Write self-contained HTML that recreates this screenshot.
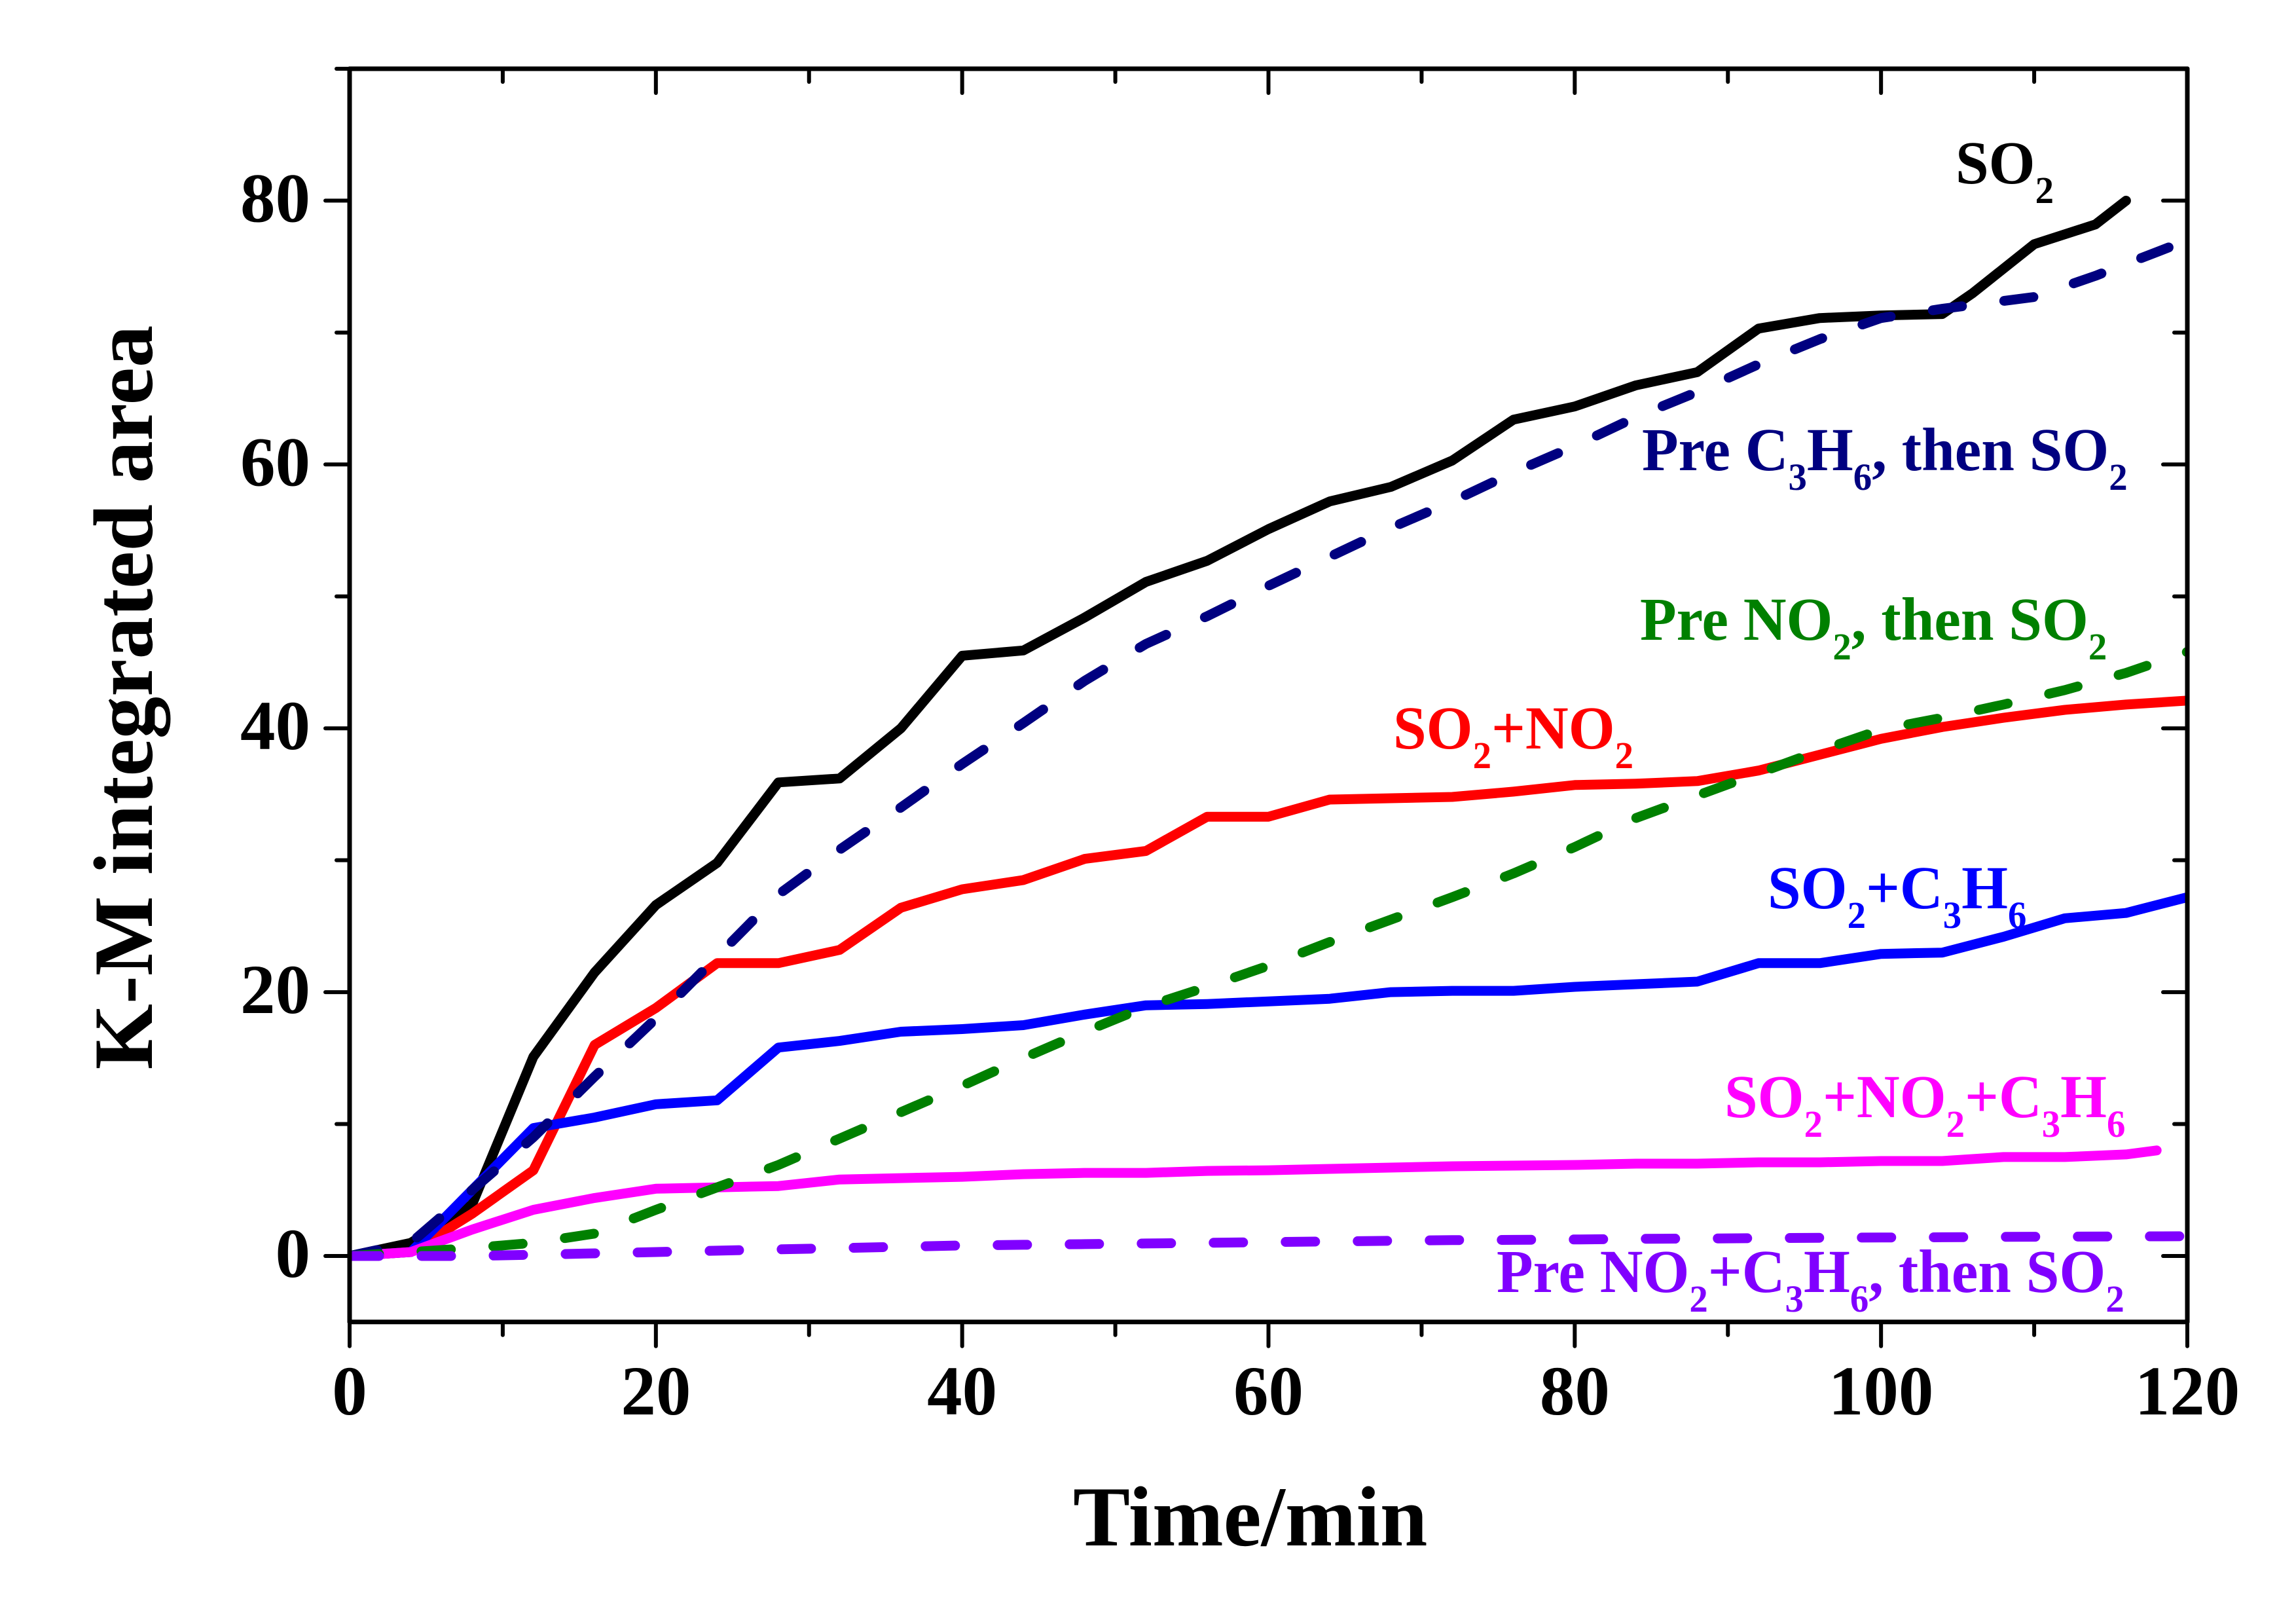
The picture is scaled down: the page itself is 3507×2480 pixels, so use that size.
<!DOCTYPE html>
<html lang="en">
<head>
<meta charset="utf-8">
<title>K-M integrated area vs time</title>
<style>
html,body{margin:0;padding:0;background:#fff;}
svg{display:block;}
text{font-family:"Liberation Serif","Times New Roman",serif;font-weight:bold;}
</style>
</head>
<body>
<svg id="chart" xmlns="http://www.w3.org/2000/svg" width="3507" height="2480" viewBox="0 0 3507 2480">
<rect width="3507" height="2480" fill="#fff"/>
<defs><clipPath id="plot-clip"><rect x="534" y="104" width="2807" height="1915"/></clipPath></defs>
<g id="series-layer" clip-path="url(#plot-clip)"></g>
<g id="axis-layer"></g>

<text x="1639" y="2360" font-size="130.5" fill="#000">Time/min</text>
<text transform="translate(232,1065) rotate(-90)" text-anchor="middle" font-size="129" fill="#000">K-M integrated area</text>

<text transform="translate(2987,280) scale(.98,1)" font-size="93" fill="#000000">SO<tspan font-size="58" dy="30">2</tspan></text>
<text transform="translate(2508,718) scale(.98,1)" font-size="93" fill="#000080">Pre C<tspan font-size="58" dy="30">3</tspan><tspan dy="-30">H</tspan><tspan font-size="58" dy="30">6</tspan><tspan dy="-30">, then SO</tspan><tspan font-size="58" dy="30">2</tspan></text>
<text transform="translate(2505,977) scale(.98,1)" font-size="93" fill="#008000">Pre NO<tspan font-size="58" dy="30">2</tspan><tspan dy="-30">, then SO</tspan><tspan font-size="58" dy="30">2</tspan></text>
<text transform="translate(2128,1143) scale(.98,1)" font-size="93" fill="#ff0000">SO<tspan font-size="58" dy="30">2</tspan><tspan dy="-30">+NO</tspan><tspan font-size="58" dy="30">2</tspan></text>
<text transform="translate(2700,1387) scale(.98,1)" font-size="93" fill="#0000ff">SO<tspan font-size="58" dy="30">2</tspan><tspan dy="-30">+C</tspan><tspan font-size="58" dy="30">3</tspan><tspan dy="-30">H</tspan><tspan font-size="58" dy="30">6</tspan></text>
<text transform="translate(2634,1706) scale(.98,1)" font-size="93" fill="#ff00ff">SO<tspan font-size="58" dy="30">2</tspan><tspan dy="-30">+NO</tspan><tspan font-size="58" dy="30">2</tspan><tspan dy="-30">+C</tspan><tspan font-size="58" dy="30">3</tspan><tspan dy="-30">H</tspan><tspan font-size="58" dy="30">6</tspan></text>
<text transform="translate(2286,1973) scale(.98,1)" font-size="93" fill="#8000ff">Pre NO<tspan font-size="58" dy="30">2</tspan><tspan dy="-30">+C</tspan><tspan font-size="58" dy="30">3</tspan><tspan dy="-30">H</tspan><tspan font-size="58" dy="30">6</tspan><tspan dy="-30">, then SO</tspan><tspan font-size="58" dy="30">2</tspan></text>
</svg>
<script>
const xTickLabels = [0, 20, 40, 60, 80, 100, 120];
const xMinorTicks = [10, 30, 50, 70, 90, 110];
const yTickLabels = [0, 20, 40, 60, 80];
const yMinorTicks = [10, 30, 50, 70, 90];

const commonTimes = [0,4,8,12,16,20,24,28,32,36,40,44,48,52,56,60,64,68,72,76,80,84,88,92,96,100,104,108,112,116,120];
const so2Times = [0,4,8,12,16,20,24,28,32,36,40,44,48,52,56,60,64,68,72,76,80,84,88,92,96,100,104,106,110,114,116];
const so2Values = [0,1,3.9,15.1,21.5,26.6,29.8,35.9,36.2,40,45.5,45.9,48.4,51.1,52.7,55.1,57.2,58.3,60.3,63.4,64.4,66,67,70.3,71.1,71.3,71.4,73,76.7,78.2,80];
const so2No2Values = [0,0.3,3.2,6.5,16,18.8,22.2,22.2,23.2,26.4,27.8,28.5,30.1,30.7,33.3,33.3,34.6,34.7,34.8,35.2,35.7,35.8,36,36.8,38,39.2,40.1,40.8,41.4,41.8,42.1];
const so2C3h6Values = [0,0.3,5,9.7,10.5,11.5,11.8,15.8,16.3,17,17.2,17.5,18.3,19,19.1,19.3,19.5,20,20.1,20.1,20.4,20.6,20.8,22.2,22.2,22.9,23,24.2,25.6,26,27.2];
const so2No2C3h6Times = [0,4,8,12,16,20,24,28,32,36,40,44,48,52,56,60,64,68,72,76,80,84,88,92,96,100,104,108,112,116,118];
const so2No2C3h6Values = [0,0.3,2,3.5,4.4,5.1,5.2,5.3,5.8,5.9,6,6.2,6.3,6.3,6.45,6.5,6.6,6.7,6.8,6.85,6.9,7,7,7.1,7.1,7.2,7.2,7.5,7.5,7.7,8];
const preC3h6Times = [0,4,8,12,16,20,24,28,32,36,40,44,48,52,56,60,64,68,72,76,80,84,88,92,96,100,104,110,114,120];
const preC3h6Values = [0,1,5,9,13.6,18,22.7,27.4,30.8,34,37.3,40.4,43.6,46.4,48.5,50.8,53,55.2,57.2,59.4,61.4,63.6,65.5,67.6,69.5,71.1,71.8,72.7,74.3,77];
const preNo2Values = [0,0.3,0.6,1,1.7,3.5,5.2,6.9,8.9,10.9,12.9,15,17,18.9,20.4,22,23.8,25.5,27.2,29,31,33.2,34.9,36.6,38.3,39.9,40.8,41.8,42.9,44.2,45.8];
const preNo2C3h6Values = [0,0,0,0.1,0.2,0.3,0.4,0.5,0.6,0.7,0.8,0.85,0.9,0.95,1,1.05,1.1,1.15,1.2,1.22,1.25,1.3,1.32,1.35,1.38,1.4,1.42,1.45,1.47,1.48,1.5];

const NS = 'http://www.w3.org/2000/svg';
const X_LEFT = 534, X_RIGHT = 3341, Y_ZERO = 1918, Y_PER_UNIT = 20.145;
const xScale = v => X_LEFT + (X_RIGHT - X_LEFT) * v / 120;
const yScale = v => Y_ZERO - v * Y_PER_UNIT;
const Y_BOTTOM = yScale(-5), Y_TOP = yScale(90);
const axisLayer = document.getElementById('axis-layer');
const seriesLayer = document.getElementById('series-layer');

function makeLine(x1, y1, x2, y2, width) {
  const l = document.createElementNS(NS, 'line');
  l.setAttribute('x1', x1);
  l.setAttribute('y1', y1);
  l.setAttribute('x2', x2);
  l.setAttribute('y2', y2);
  l.setAttribute('stroke', '#000');
  l.setAttribute('stroke-width', width);
  l.setAttribute('stroke-linecap', 'round');
  axisLayer.appendChild(l);
  return l;
}

function makeLabel(x, y, anchor, str) {
  const t = document.createElementNS(NS, 'text');
  t.setAttribute('x', x);
  t.setAttribute('y', y);
  t.setAttribute('text-anchor', anchor);
  t.setAttribute('font-size', '107');
  t.setAttribute('fill', '#000');
  t.textContent = str;
  axisLayer.appendChild(t);
  return t;
}

function drawSeries(times, values, color, dashOffset, name) {
  const p = document.createElementNS(NS, 'path');
  p.setAttribute('d', times.map((t, i) => (i ? 'L' : 'M') + xScale(t).toFixed(1) + ' ' + yScale(values[i]).toFixed(1)).join(' '));
  p.setAttribute('fill', 'none');
  p.setAttribute('stroke', color);
  p.setAttribute('stroke-width', '15');
  p.setAttribute('stroke-linejoin', 'round');
  p.setAttribute('stroke-linecap', 'round');
  if (dashOffset !== null) {
    p.setAttribute('stroke-dasharray', '45 65');
    p.setAttribute('stroke-dashoffset', dashOffset);
  }
  
  
  seriesLayer.appendChild(p);
}

drawSeries(so2Times, so2Values, '#000000', null, 'series-so2');
drawSeries(commonTimes, so2No2Values, '#ff0000', null, 'series-so2-no2');
drawSeries(commonTimes, so2C3h6Values, '#0000ff', null, 'series-so2-c3h6');
drawSeries(so2No2C3h6Times, so2No2C3h6Values, '#ff00ff', null, 'series-so2-no2-c3h6');
drawSeries(preC3h6Times, preC3h6Values, '#000080', 2, 'series-pre-c3h6-then-so2');
drawSeries(commonTimes, preNo2Values, '#008000', 0, 'series-pre-no2-then-so2');
drawSeries(commonTimes, preNo2C3h6Values, '#8000ff', 0, 'series-pre-no2-c3h6-then-so2');

const frame = [
  [X_LEFT, Y_TOP, X_RIGHT, Y_TOP, 'axis-top'],
  [X_LEFT, Y_BOTTOM, X_RIGHT, Y_BOTTOM, 'axis-bottom'],
  [X_LEFT, Y_TOP, X_LEFT, Y_BOTTOM, 'axis-left'],
  [X_RIGHT, Y_TOP, X_RIGHT, Y_BOTTOM, 'axis-right']
];
frame.forEach(f => {
  const l = makeLine(f[0], f[1], f[2], f[3], 7);
  
  
});

xTickLabels.forEach(v => {
  const x = xScale(v);
  const b = makeLine(x, Y_BOTTOM, x, Y_BOTTOM + 37, 6);
  
  
  const t = makeLine(x, Y_TOP, x, Y_TOP + 37, 6);
  
  
  const lab = makeLabel(x, 2160, 'middle', String(v));
  
  
});
xMinorTicks.forEach(v => {
  const x = xScale(v);
  const b = makeLine(x, Y_BOTTOM, x, Y_BOTTOM + 20, 6);
  
  
  const t = makeLine(x, Y_TOP, x, Y_TOP + 20, 6);
  
  
});
yTickLabels.forEach(v => {
  const y = yScale(v);
  const l = makeLine(X_LEFT, y, X_LEFT - 37, y, 6);
  
  
  const r = makeLine(X_RIGHT, y, X_RIGHT - 37, y, 6);
  
  
  const lab = makeLabel(474, y + 32, 'end', String(v));
  
  
});
yMinorTicks.forEach(v => {
  const y = yScale(v);
  const l = makeLine(X_LEFT, y, X_LEFT - 20, y, 6);
  
  
  const r = makeLine(X_RIGHT, y, X_RIGHT - 20, y, 6);
  
  
});
</script>
</body>
</html>
